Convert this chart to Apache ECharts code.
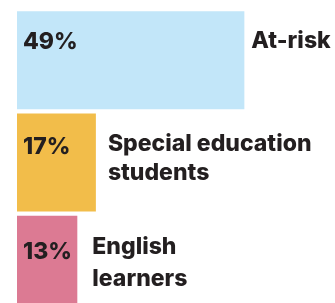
<!DOCTYPE html>
<html>
<head>
<meta charset="utf-8">
<script src="https://cdn.jsdelivr.net/npm/echarts@6/dist/echarts.min.js"></script>
<style>
    html, body { margin: 0; padding: 0; background: #fff; }
    #main { width: 335px; height: 303px; }
</style>
</head>
<body>
<div id="main"></div>
<script>
var categories = ['At-risk', 'Special education\nstudents', 'English\nlearners'];
var shares = [49, 17, 13];
var barColors = ['#c2e6f9', '#f2bd4a', '#dc7a93'];
// label nudges, px
var valueLabelY = [31, 34, 36];
var nameLabelOffset = [[7, -19], [12, -4], [15, -2]];
var nameLineHeight = [31, 29, 32];

function chart() {
    var myChart = echarts.init(document.getElementById('main'));
    var textColor = '#231f20';
    var font = 'Inter';

    var option = {
        animation: false,
        grid: {
            left: 17,
            top: 9,
            width: 464,
            height: 307,
            outerBoundsMode: 'none',
            containLabel: false
        },
        xAxis: {
            type: 'value',
            min: 0,
            max: 100,
            show: false
        },
        yAxis: {
            type: 'category',
            data: categories,
            inverse: true,
            show: false
        },
        series: [{
            type: 'bar',
            barWidth: 98,
            data: shares.map(function (v, i) {
                return {
                    value: v,
                    itemStyle: { color: barColors[i] },
                    label: { position: [6, valueLabelY[i]] }
                };
            }),
            label: {
                show: true,
                align: 'left',
                verticalAlign: 'middle',
                color: textColor,
                fontFamily: font,
                fontWeight: 800,
                fontSize: 23,
                formatter: '{c}%'
            }
        }, {
            type: 'bar',
            barWidth: 98,
            barGap: '-100%',
            silent: true,
            data: shares.map(function (v, i) {
                return {
                    value: v,
                    itemStyle: { color: 'transparent' },
                    label: { offset: nameLabelOffset[i], lineHeight: nameLineHeight[i] }
                };
            }),
            label: {
                show: true,
                position: 'right',
                distance: 0,
                align: 'left',
                verticalAlign: 'middle',
                color: textColor,
                fontFamily: font,
                fontWeight: 800,
                fontSize: 23,
                formatter: '{b}'
            }
        }]
    };
    myChart.setOption(option);
}
chart();
</script>
</body>
</html>
